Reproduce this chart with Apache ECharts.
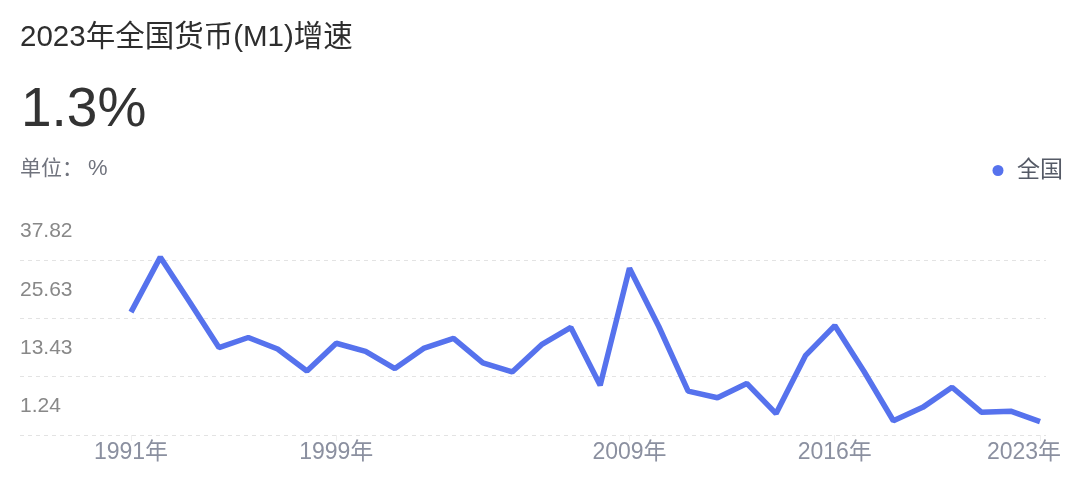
<!DOCTYPE html>
<html>
<head>
<meta charset="utf-8">
<script src="https://cdn.jsdelivr.net/npm/echarts@6/dist/echarts.min.js"></script>
<style>
html,body{margin:0;padding:0;background:#fff;}
#chart{width:1080px;height:491px;}
</style>
</head>
<body>
<div id="chart"></div>
<script>
// ---- data ----
const categories = ['1991年','1992年','1994年','1995年','1996年','1997年','1998年','1999年',
  '2000年','2001年','2002年','2003年','2004年','2005年','2006年','2007年','2008年','2009年',
  '2010年','2011年','2012年','2013年','2014年','2015年','2016年','2017年','2018年','2019年',
  '2020年','2021年','2022年','2023年'];
const values = [24.2, 35.7, 26.3, 16.8, 18.9, 16.5, 11.9, 17.7,
  16.0, 12.4, 16.7, 18.7, 13.6, 11.7, 17.4, 21.0, 8.9, 33.4,
  21.2, 7.7, 6.3, 9.3, 3.0, 15.1, 21.4, 11.8, 1.5, 4.3,
  8.5, 3.3, 3.5, 1.3];
const xLabelShown = ['1991年','1999年','2009年','2016年','2023年'];
const yTickLabels = ['1.24','13.43','25.63','37.82'];
const seriesName = '全国';
const titleText = '2023年全国货币(M1)增速';
const unitLabel = '单位：';
const unitSymbol = '%';

const FONT = '"Liberation Sans", "Noto Sans CJK SC", sans-serif';
const yMin = parseFloat(yTickLabels[0]);
const yMax = parseFloat(yTickLabels[yTickLabels.length - 1]);
const yInterval = (yMax - yMin) / (yTickLabels.length - 1);
const lastCat = categories[categories.length - 1];

const chart = echarts.init(document.getElementById('chart'), null, {renderer: 'canvas'});
chart.setOption({
  animation: false,
  backgroundColor: '#ffffff',
  title: [
    {text: titleText, left: 15, top: 18,
     textStyle: {fontSize: 29.5, fontWeight: 'normal', color: '#2e2e2e', fontFamily: FONT}},
    {text: values[values.length - 1] + '%', left: 16, top: 78,
     textStyle: {fontSize: 55, fontWeight: 'normal', color: '#333333', fontFamily: FONT}},
    {text: '{a|' + unitLabel + '}{b|' + unitSymbol + '}', left: 15, top: 153,
     textStyle: {fontSize: 21, fontWeight: 'normal', color: '#70737d', fontFamily: FONT,
       rich: {
         a: {fontSize: 21, color: '#70737d', fontFamily: FONT},
         b: {fontSize: 22, color: '#70737d', fontFamily: FONT, padding: [0, 0, 0, 5]}
       }}}
  ],
  legend: {
    right: 12, top: 154,
    icon: 'circle', itemWidth: 28, itemHeight: 11,
    textStyle: {fontSize: 23, color: '#555a66', fontFamily: FONT},
    data: [seriesName]
  },
  grid: [
    {left: 131, right: 40, top: 247, bottom: 69, containLabel: false},
    {left: 20, right: 34, top: 260, bottom: 56, containLabel: false}
  ],
  xAxis: [
    {
      type: 'category', gridIndex: 0, data: categories, boundaryGap: false,
      offset: 13,
      axisLine: {show: false},
      axisTick: {show: true, length: 6, lineStyle: {color: '#eeeeee'},
        interval: (i, v) => xLabelShown.indexOf(v) >= 0},
      axisLabel: {
        interval: (i, v) => xLabelShown.indexOf(v) >= 0,
        margin: 6,
        fontSize: 23, color: '#8b90a0', fontFamily: FONT,
        formatter: v => v === lastCat ? '{r|' + v + '}' : v,
        rich: {r: {fontSize: 23, color: '#8b90a0', fontFamily: FONT, padding: [0, 32, 0, 0]}}
      }
    },
    {type: 'value', gridIndex: 1, min: 0, max: 1, show: false}
  ],
  yAxis: [
    {
      type: 'value', gridIndex: 0, min: yMin, max: yMax, interval: yInterval,
      axisLine: {show: false}, axisTick: {show: false}, splitLine: {show: false},
      axisLabel: {
        align: 'left', margin: 111, verticalAlign: 'bottom', padding: [0, 0, 5, 0],
        fontSize: 21, color: '#888888', fontFamily: FONT,
        formatter: v => yTickLabels[Math.round((v - yMin) / yInterval)]
      }
    },
    {
      type: 'value', gridIndex: 1, min: 0, max: 3, interval: 1,
      axisLine: {show: false}, axisTick: {show: false}, axisLabel: {show: false},
      splitLine: {show: true, lineStyle: {color: '#e3e3e3', width: 1, type: [4, 4]}}
    }
  ],
  series: [{
    name: seriesName, type: 'line', xAxisIndex: 0, yAxisIndex: 0,
    data: values, symbol: 'none', clip: false,
    itemStyle: {color: '#5672ED'},
    lineStyle: {color: '#5672ED', width: 5.5}
  }]
});
</script>
</body>
</html>
